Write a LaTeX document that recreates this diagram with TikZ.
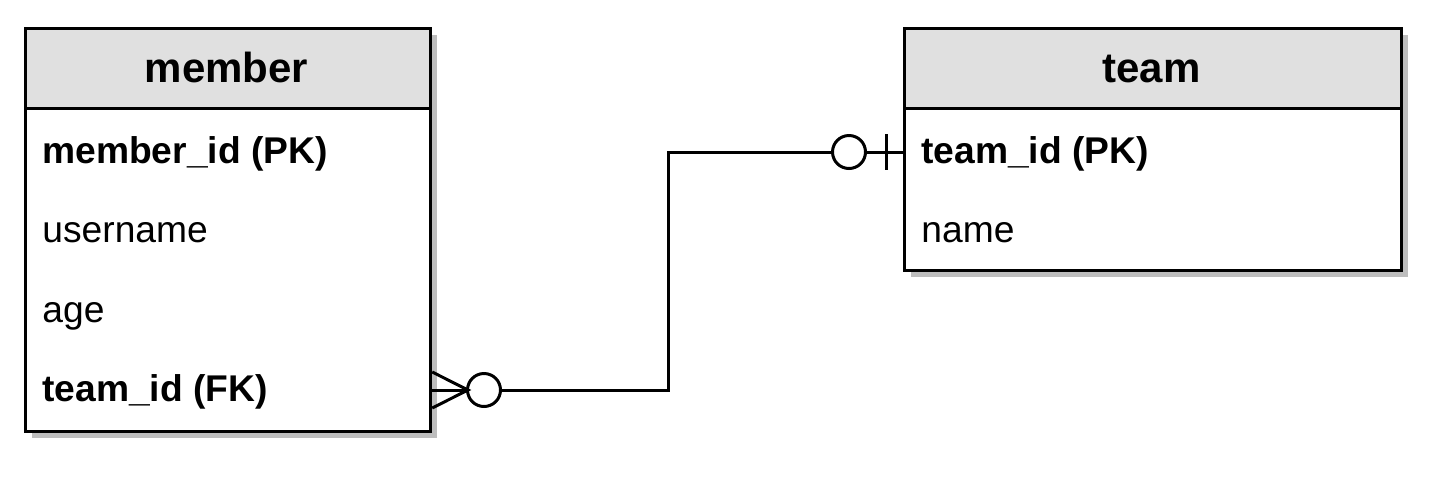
\documentclass[tikz,border=0pt]{standalone}
\usepackage{fontspec}
\setmainfont{Liberation Sans}
\usetikzlibrary{shadows}
\definecolor{hdrgray}{HTML}{E0E0E0}
\definecolor{shadowgray}{HTML}{BDBDBD}
\begin{document}
\begin{tikzpicture}[x=0.5pt,y=-0.5pt,
  tblbox/.style={draw=black, line width=1.6pt, fill=white, inner sep=0pt, anchor=north west,
    drop shadow={shadow xshift=3pt, shadow yshift=-3pt, fill=shadowgray, opacity=1}},
  hdrbox/.style={draw=black, line width=1.6pt, fill=hdrgray, inner sep=0pt, anchor=north west},
  hdrtext/.style={font=\fontsize{21}{25}\selectfont\bfseries, anchor=base, inner sep=0pt},
  fieldtext/.style={font=\fontsize{18.6}{22}\selectfont, anchor=base west, inner sep=0pt},
  keytext/.style={fieldtext, font=\fontsize{18.6}{22}\selectfont\bfseries},
  conn/.style={line width=1.5pt, draw=black},
  endcircle/.style={circle, draw=black, line width=1.5pt, fill=white, minimum size=16.5pt, inner sep=0pt}
]
\useasboundingbox (0,0) rectangle (1452,500);
% member table
\node[tblbox, minimum width=202.5pt, minimum height=201.5pt] (member) at (24,27) {};
\node[hdrbox, minimum width=202.5pt, minimum height=40pt] (memberhdr) at (24,27) {};
\node[hdrtext] (membertitle) at (226.5,82) {member};
\node[keytext] (mid) at (42,163) {member\_id (PK)};
\node[fieldtext] (uname) at (42,242) {username};
\node[fieldtext] (age) at (42,322) {age};
\node[keytext] (fk) at (42,401) {team\_id (FK)};
% team table
\node[tblbox, minimum width=248.5pt, minimum height=121pt] (team) at (903,27) {};
\node[hdrbox, minimum width=248.5pt, minimum height=40pt] (teamhdr) at (903,27) {};
\node[hdrtext] (teamtitle) at (1151.5,82) {team};
\node[keytext] (tpk) at (921,163) {team\_id (PK)};
\node[fieldtext] (tname) at (921,242) {name};
% connector
\coordinate (a) at (member.east |- 0,390);
\coordinate (b) at (team.west |- 0,152);
\coordinate (crowtip) at (468,390);
\node[endcircle] (c1) at (484,390) {};
\node[endcircle] (c2) at (849,152) {};
\draw[conn] ([yshift=9pt]a) -- (crowtip) -- ([yshift=-9pt]a);
\draw[conn] (a) -- (crowtip) -- (c1.west);
\draw[conn] (c1.east) -- (668,390) -- (668,152) -- (c2.west);
\draw[conn] (c2.east) -- (b);
\draw[conn] (886,134) -- (886,170);
\end{tikzpicture}
\end{document}
